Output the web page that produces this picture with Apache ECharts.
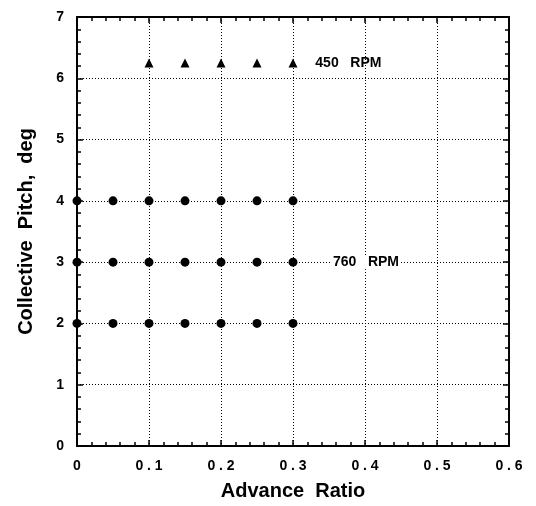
<!DOCTYPE html>
<html>
<head>
<meta charset="utf-8">
<script src="https://cdn.jsdelivr.net/npm/echarts@6/dist/echarts.min.js"></script>
<style>
  html, body { margin: 0; padding: 0; background: #fff; }
  #chart { width: 536px; height: 506px; }
</style>
</head>
<body>
<div id="chart"></div>
<script>
// Test points: advance ratio vs. collective pitch
const advance760 = [0, 0.05, 0.1, 0.15, 0.2, 0.25, 0.3];
const pitch760 = [2, 3, 4];
const advance450 = [0.1, 0.15, 0.2, 0.25, 0.3];
const pitch450 = [6.25];

const xTickLabels = ['0', '0 . 1', '0 . 2', '0 . 3', '0 . 4', '0 . 5', '0 . 6'];
const yTickLabels = ['0', '1', '2', '3', '4', '5', '6', '7'];

const label450 = { text: '450   RPM', x: 0.331, y: 6.25 };
const label760 = { text: '760   RPM', x: 0.354, y: 3 };

const pts760 = [];
pitch760.forEach(p => advance760.forEach(a => pts760.push([a, p])));
const pts450 = [];
pitch450.forEach(p => advance450.forEach(a => pts450.push([a, p])));

const FONT = '"Liberation Sans", Arial, sans-serif';

const axisCommon = {
  axisLine: { show: true, onZero: false, lineStyle: { color: '#000', width: 2 } },
  axisTick: { show: true, inside: true, length: 6, lineStyle: { color: '#000', width: 1.5 } },
  minorTick: { show: true, splitNumber: 5, length: 4, lineStyle: { color: '#000', width: 1.5 } }
};

const chart = echarts.init(document.getElementById('chart'));
chart.setOption({
  animation: false,
  backgroundColor: '#fff',
  grid: { left: 77, right: 27, top: 17, bottom: 58 },
  xAxis: [
    Object.assign({
      type: 'value', min: 0, max: 0.6, interval: 0.1,
      name: 'Advance  Ratio', nameLocation: 'middle', nameGap: 35,
      nameTextStyle: { fontFamily: FONT, fontWeight: 'bold', fontSize: 20, color: '#000' },
      axisLabel: {
        margin: 13, fontFamily: FONT, fontWeight: 'bold', fontSize: 14, color: '#000',
        formatter: (v) => xTickLabels[Math.round(v * 10)]
      },
      splitLine: { show: true, lineStyle: { color: '#000', type: [1, 2], width: 1 } }
    }, axisCommon),
    Object.assign({
      type: 'value', position: 'top', min: 0, max: 0.6, interval: 0.1,
      axisLabel: { show: false }, splitLine: { show: false }
    }, axisCommon)
  ],
  yAxis: [
    Object.assign({
      type: 'value', min: 0, max: 7, interval: 1,
      name: 'Collective  Pitch,  deg', nameLocation: 'middle', nameGap: 41,
      nameTextStyle: { fontFamily: FONT, fontWeight: 'bold', fontSize: 20, color: '#000' },
      axisLabel: {
        margin: 13, fontFamily: FONT, fontWeight: 'bold', fontSize: 14, color: '#000',
        formatter: (v) => yTickLabels[Math.round(v)]
      },
      splitLine: { show: true, lineStyle: { color: '#000', type: [1, 2], width: 1 } }
    }, axisCommon),
    Object.assign({
      type: 'value', position: 'right', min: 0, max: 7, interval: 1,
      axisLabel: { show: false }, splitLine: { show: false }
    }, axisCommon)
  ],
  series: [
    {
      name: '760 RPM', type: 'scatter', symbol: 'circle', symbolSize: 9,
      itemStyle: { color: '#000', opacity: 1 }, data: pts760, z: 5,
      markPoint: {
        symbol: 'rect', symbolSize: 0,
        label: {
          show: true, position: 'right', distance: 0, formatter: label760.text,
          fontFamily: FONT, fontWeight: 'bold', fontSize: 14, color: '#000',
          backgroundColor: '#fff', padding: [0, 1]
        },
        data: [{ coord: [label760.x, label760.y] }]
      }
    },
    {
      name: '450 RPM', type: 'scatter', symbol: 'triangle', symbolSize: 9,
      itemStyle: { color: '#000', opacity: 1 }, data: pts450, z: 5,
      markPoint: {
        symbol: 'rect', symbolSize: 0,
        label: {
          show: true, position: 'right', distance: 0, formatter: label450.text,
          fontFamily: FONT, fontWeight: 'bold', fontSize: 14, color: '#000'
        },
        data: [{ coord: [label450.x, label450.y] }]
      }
    }
  ]
});
</script>
</body>
</html>
